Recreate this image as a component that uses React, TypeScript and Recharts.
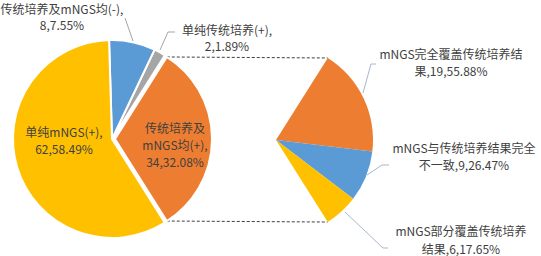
import React from 'react';
import { PieChart, Pie, Cell, Customized } from 'recharts';

// ---- data ----
const mainNames = ['传统培养及mNGS均(+)', '单纯传统培养(+)', '传统培养及mNGS均(-)', '单纯mNGS(+)'];
const mainValues = [34, 2, 8, 62];
const mainColors = ['#ED7D31', '#A5A5A5', '#5B9BD5', '#FFC000'];

const subNames = ['mNGS完全覆盖传统培养结果', 'mNGS与传统培养结果完全不一致', 'mNGS部分覆盖传统培养结果'];
const subValues = [19, 9, 6];
const subColors = ['#ED7D31', '#5B9BD5', '#FFC000'];

// ---- layout ----
const FONT = '"Noto Sans CJK SC", "Noto Sans", sans-serif';
const TEXT = '#404040';
const FS = 12;
const W = 541;
const H = 256;

const MAIN = { cx: 112, cy: 139, r: 99 };
const EXPLODED = { cx: 115, cy: 139, r: 97 };
const SUB = { cx: 276, cy: 140, r: 97 };

type LabelLayout = { x: number; y: number; lh: number; breaks: number[] };

// label placements: center x, first line center y, line height, break indices
const mainLabelLayout: LabelLayout[] = [
  { x: 175, y: 127, lh: 17.2, breaks: [5, 14] },
  { x: 227, y: 29.5, lh: 15.8, breaks: [10] },
  { x: 62, y: 8.5, lh: 15.8, breaks: [14] },
  { x: 64, y: 131.5, lh: 16.8, breaks: [10] },
];
const subLabelLayout: LabelLayout[] = [
  { x: 451, y: 53.5, lh: 16.8, breaks: [13] },
  { x: 464, y: 147, lh: 17.2, breaks: [13] },
  { x: 461, y: 230.5, lh: 17.5, breaks: [12] },
];
const mainLeaders: (number[][] | null)[] = [
  null,
  [[175, 32], [168, 32], [160, 50]],
  [[125, 18], [133, 41]],
  null,
];
const subLeaders = [
  [[376, 64], [371, 64], [363, 93]],
  [[389, 165], [382, 165], [367, 175]],
  [[388, 248], [383, 248], [345, 212]],
];

const sum = (a: number[]) => a.reduce((s, v) => s + v, 0);
const mainTotal = sum(mainValues);
const subTotal = sum(subValues);
const half = (mainValues[0] / mainTotal) * 180;

const mainData = mainNames.map((name, i) => ({ name, value: mainValues[i], color: mainColors[i], idx: i }));
const subData = subNames.map((name, i) => ({ name, value: subValues[i], color: subColors[i], idx: i }));
const explodedData = mainData.slice(0, 1);
const restData = mainData.slice(1);

const pct = (v: number, t: number) => ((v / t) * 100).toFixed(2);

function polar(c: { cx: number; cy: number }, r: number, deg: number) {
  const a = (deg * Math.PI) / 180;
  return [c.cx + r * Math.cos(a), c.cy - r * Math.sin(a)];
}

function splitLines(s: string, breaks: number[]) {
  const out: string[] = [];
  let prev = 0;
  for (const b of breaks) {
    out.push(s.slice(prev, b));
    prev = b;
  }
  out.push(s.slice(prev));
  return out;
}

function LabelText({ text, layout }: { text: string; layout: LabelLayout }) {
  const lines = splitLines(text, layout.breaks);
  return (
    <g>
      {lines.map((ln, i) => (
        <text
          key={i}
          x={layout.x}
          y={layout.y + i * layout.lh}
          textAnchor="middle"
          dominantBaseline="central"
          fontFamily={FONT}
          fontSize={FS}
          fill={TEXT}
        >
          {ln}
        </text>
      ))}
    </g>
  );
}

function findItem(props: any, list: { name: string; value: number; idx: number }[]) {
  const nm = props?.payload?.name ?? props?.name;
  return list.find((d) => d.name === nm);
}

const renderMainLabel = (props: any) => {
  const d = findItem(props, mainData);
  if (!d) return <g />;
  return <LabelText text={`${d.name},${d.value},${pct(d.value, mainTotal)}%`} layout={mainLabelLayout[d.idx]} />;
};

const renderSubLabel = (props: any) => {
  const d = findItem(props, subData);
  if (!d) return <g />;
  return <LabelText text={`${d.name},${d.value},${pct(d.value, subTotal)}%`} layout={subLabelLayout[d.idx]} />;
};

function Overlay() {
  const t1 = polar(EXPLODED, EXPLODED.r, half);
  const t2 = polar(SUB, SUB.r, half);
  const b1 = polar(EXPLODED, EXPLODED.r, -half);
  const b2 = polar(SUB, SUB.r, -half);
  return (
    <g>
      <line x1={t1[0]} y1={t1[1]} x2={t2[0]} y2={t2[1]} stroke="#404040" strokeWidth={1} strokeDasharray="3 2" />
      <line x1={b1[0]} y1={b1[1]} x2={b2[0]} y2={b2[1]} stroke="#404040" strokeWidth={1} strokeDasharray="3 2" />
      {mainLeaders.map((pts, i) =>
        pts ? (
          <polyline key={'ml' + i} points={pts.map((p) => p.join(',')).join(' ')} fill="none" stroke="#A6A6A6" strokeWidth={1} />
        ) : null
      )}
      {subLeaders.map((pts, i) => (
        <polyline key={'sl' + i} points={pts.map((p) => p.join(',')).join(' ')} fill="none" stroke="#A7B7D0" strokeWidth={1} />
      ))}
    </g>
  );
}

export default function App() {
  return (
    <div style={{ position: 'absolute', left: 0, top: 0, width: W, height: H, background: '#fff' }}>
      <PieChart width={W} height={H} margin={{ top: 0, right: 0, bottom: 0, left: 0 }}>
        <Customized component={Overlay} />
        <Pie
          data={restData}
          dataKey="value"
          cx={MAIN.cx}
          cy={MAIN.cy}
          outerRadius={MAIN.r}
          startAngle={half}
          endAngle={360 - half}
          stroke="#fff"
          strokeWidth={2}
          isAnimationActive={false}
          label={renderMainLabel}
          labelLine={false}
        >
          {restData.map((d, i) => (
            <Cell key={i} fill={d.color} />
          ))}
        </Pie>
        <Pie
          data={explodedData}
          dataKey="value"
          cx={EXPLODED.cx}
          cy={EXPLODED.cy}
          outerRadius={EXPLODED.r}
          startAngle={-half}
          endAngle={half}
          stroke="#fff"
          strokeWidth={2}
          isAnimationActive={false}
          label={renderMainLabel}
          labelLine={false}
        >
          {explodedData.map((d, i) => (
            <Cell key={i} fill={d.color} />
          ))}
        </Pie>
        <Pie
          data={subData}
          dataKey="value"
          cx={SUB.cx}
          cy={SUB.cy}
          outerRadius={SUB.r}
          startAngle={half}
          endAngle={-half}
          stroke="none"
          isAnimationActive={false}
          label={renderSubLabel}
          labelLine={false}
        >
          {subData.map((d, i) => (
            <Cell key={i} fill={d.color} />
          ))}
        </Pie>
      </PieChart>
    </div>
  );
}
